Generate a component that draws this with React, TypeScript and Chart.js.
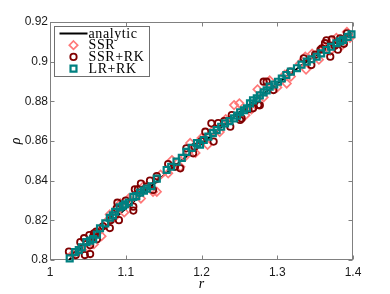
import React, { useEffect, useRef } from 'react';
import { Chart, registerables } from 'chart.js';

Chart.register(...registerables);

const seriesLabels = ['analytic', 'SSR', 'SSR+RK', 'LR+RK'];

const xTicks = [1, 1.1, 1.2, 1.3, 1.4];
const yTicks = [0.8, 0.82, 0.84, 0.86, 0.88, 0.9, 0.92];

const analyticR = [1.025, 1.05, 1.1, 1.15, 1.2, 1.25, 1.3, 1.35, 1.398];
const analyticRho = [0.8, 0.8088, 0.826, 0.8426, 0.8585, 0.8745, 0.889, 0.903, 0.9142];

const ssrR = [
  1.03, 1.04, 1.05, 1.058, 1.064, 1.068, 1.075, 1.079, 1.085, 1.093, 1.098, 1.104, 1.11,
  1.12, 1.124, 1.136, 1.141, 1.146, 1.156, 1.161, 1.172, 1.178, 1.185, 1.192, 1.2, 1.208,
  1.214, 1.224, 1.232, 1.243, 1.25, 1.258, 1.266, 1.274, 1.282, 1.29, 1.3, 1.31, 1.318,
  1.33, 1.338, 1.346, 1.355, 1.362, 1.37, 1.378, 1.385, 1.392, 1.396, 1.3125, 1.337,
];
const ssrRho = [
  0.803, 0.806, 0.8065, 0.808, 0.8143, 0.812, 0.8195, 0.823, 0.8215, 0.8285, 0.824, 0.831,
  0.832, 0.831, 0.8375, 0.8344, 0.8344, 0.843, 0.8437, 0.8504, 0.847, 0.852, 0.859, 0.854,
  0.8615, 0.858, 0.865, 0.8645, 0.871, 0.8781, 0.879, 0.873, 0.876, 0.886, 0.882, 0.8905,
  0.887, 0.8935, 0.8925, 0.899, 0.896, 0.904, 0.901, 0.9075, 0.9055, 0.912, 0.908, 0.915,
  0.912, 0.889, 0.9025,
];

const ssrRkR = [
  1.025, 1.034, 1.046, 1.053, 1.053, 1.052, 1.057, 1.061, 1.062, 1.058, 1.079, 1.08, 1.089,
  1.091, 1.088, 1.11, 1.11, 1.112, 1.116, 1.128, 1.136, 1.14, 1.141, 1.156, 1.165, 1.172,
  1.18, 1.189, 1.191, 1.205, 1.213, 1.216, 1.238, 1.24, 1.251, 1.268, 1.275, 1.286, 1.282,
  1.295, 1.335, 1.345, 1.359, 1.363, 1.37, 1.383, 1.392, 1.376, 1.388, 1.35, 1.23, 1.222,
  1.2, 1.262, 1.07, 1.045, 1.04, 1.1, 1.12, 1.132, 1.365, 1.372, 1.38, 1.357, 1.317, 1.277,
  1.253,
];
const ssrRkRho = [
  0.8042, 0.8025, 0.8025, 0.803, 0.8075, 0.8126, 0.8117, 0.8143, 0.8105, 0.8135, 0.8161,
  0.8201, 0.8289, 0.8201, 0.826, 0.8269, 0.8249, 0.8356, 0.8356, 0.837, 0.8353, 0.8407,
  0.8423, 0.8484, 0.847, 0.8462, 0.8563, 0.8538, 0.8571, 0.8647, 0.8689, 0.8597, 0.8672,
  0.8731, 0.8706, 0.8765, 0.8781, 0.8899, 0.8899, 0.8857, 0.9017, 0.8983, 0.9067, 0.9093,
  0.9025, 0.9118, 0.9143, 0.908, 0.909, 0.9035, 0.87, 0.869, 0.86, 0.876, 0.817, 0.811,
  0.809, 0.83, 0.8385, 0.84, 0.9108, 0.9112, 0.906, 0.906, 0.895, 0.878, 0.8714,
];

const lrRkR = [
  1.026, 1.033, 1.038, 1.042, 1.048, 1.053, 1.057, 1.062, 1.066, 1.073, 1.079, 1.083, 1.086,
  1.092, 1.096, 1.099, 1.104, 1.11, 1.114, 1.119, 1.124, 1.128, 1.134, 1.141, 1.154, 1.16,
  1.167, 1.174, 1.18, 1.187, 1.194, 1.198, 1.203, 1.209, 1.215, 1.22, 1.226, 1.231, 1.237,
  1.243, 1.247, 1.251, 1.256, 1.26, 1.264, 1.268, 1.273, 1.277, 1.282, 1.286, 1.29, 1.296,
  1.301, 1.306, 1.312, 1.318, 1.326, 1.332, 1.339, 1.345, 1.352, 1.358, 1.365, 1.371, 1.378,
  1.383, 1.387, 1.393, 1.398,
];
const lrRkRho = [
  0.8008, 0.804, 0.805, 0.8064, 0.809, 0.8098, 0.8105, 0.8128, 0.816, 0.8185, 0.8213, 0.8225,
  0.8243, 0.8265, 0.8272, 0.8281, 0.829, 0.8318, 0.8322, 0.834, 0.835, 0.836, 0.8372, 0.841,
  0.8454, 0.847, 0.8496, 0.8515, 0.8545, 0.8565, 0.859, 0.8582, 0.8605, 0.8622, 0.864,
  0.8655, 0.8672, 0.8689, 0.87, 0.8714, 0.8728, 0.8745, 0.8755, 0.8765, 0.879, 0.8805,
  0.8815, 0.883, 0.8845, 0.8855, 0.8874, 0.8885, 0.8899, 0.8915, 0.8933, 0.895, 0.8967,
  0.8985, 0.9, 0.9012, 0.9025, 0.9042, 0.9059, 0.9075, 0.9093, 0.9102, 0.911, 0.9125, 0.9138,
];

const COLORS = {
  analytic: '#000000',
  ssr: 'rgb(255,120,120)',
  ssrRk: 'rgb(128,0,0)',
  lrRk: 'rgb(0,128,128)',
};

const toPts = (xs: number[], ys: number[]) => xs.map((x, i) => ({ x, y: ys[i] }));
const fmt = (v: number) => String(Number(v.toFixed(2)));

const framePlugin = {
  id: 'matlabFrame',
  beforeDatasetsDraw(chart: any) {
    const { ctx, chartArea: a, scales } = chart;
    ctx.save();
    ctx.strokeStyle = '#808080';
    ctx.lineWidth = 1;
    const L = Math.round(a.left) + 0.5;
    const R = Math.round(a.right) - 0.5;
    const T = Math.round(a.top) + 0.5;
    const B = Math.round(a.bottom) - 0.5;
    ctx.strokeRect(L, T, R - L, B - T);
    const tl = 4;
    ctx.beginPath();
    xTicks.forEach((v) => {
      const px = Math.round(scales.x.getPixelForValue(v)) + 0.5;
      ctx.moveTo(px, B);
      ctx.lineTo(px, B - tl);
      ctx.moveTo(px, T);
      ctx.lineTo(px, T + tl);
    });
    yTicks.forEach((v) => {
      const py = Math.round(scales.y.getPixelForValue(v)) + 0.5;
      ctx.moveTo(L, py);
      ctx.lineTo(L + tl, py);
      ctx.moveTo(R, py);
      ctx.lineTo(R - tl, py);
    });
    ctx.stroke();
    ctx.restore();
  },
};

function drawMarker(ctx: CanvasRenderingContext2D, style: string, x: number, y: number, r: number) {
  ctx.beginPath();
  if (style === 'circle') {
    ctx.arc(x, y, r, 0, Math.PI * 2);
  } else if (style === 'rect') {
    const s = Math.SQRT1_2 * r;
    ctx.rect(x - s, y - s, 2 * s, 2 * s);
  } else if (style === 'rectRot') {
    ctx.moveTo(x, y - r);
    ctx.lineTo(x + r, y);
    ctx.lineTo(x, y + r);
    ctx.lineTo(x - r, y);
    ctx.closePath();
  }
  ctx.stroke();
}

const legendPlugin = {
  id: 'insideLegend',
  afterDraw(chart: any) {
    const { ctx, chartArea: a } = chart;
    const ds = chart.data.datasets;
    const bx = Math.round(a.left) + 4.5;
    const by = Math.round(a.top) + 4.5;
    const bw = 95;
    const bh = 50;
    ctx.save();
    ctx.fillStyle = '#ffffff';
    ctx.fillRect(bx, by, bw, bh);
    ctx.strokeStyle = '#6f6f6f';
    ctx.lineWidth = 1;
    ctx.strokeRect(bx, by, bw, bh);
    ctx.font = '14px "Liberation Serif"';
    try {
      (ctx as any).letterSpacing = '0.6px';
    } catch (e) {}
    ctx.textBaseline = 'middle';
    ctx.textAlign = 'left';
    const rowH = 11.7;
    ds.forEach((d: any, i: number) => {
      const cy = by + 7 + i * rowH;
      const x0 = bx + 5;
      const x1 = bx + 33;
      if (d.showLine) {
        ctx.strokeStyle = d.borderColor;
        ctx.lineWidth = 2;
        ctx.beginPath();
        ctx.moveTo(x0, cy);
        ctx.lineTo(x1, cy);
        ctx.stroke();
      } else {
        ctx.strokeStyle = d.pointBorderColor;
        ctx.lineWidth = d.pointBorderWidth;
        drawMarker(ctx, d.pointStyle, (x0 + x1) / 2, cy, d.pointRadius);
      }
      ctx.fillStyle = '#000';
      ctx.fillText(d.label, x1 + 1, cy + 0.5);
    });
    ctx.restore();
  },
};

export default function App() {
  const ref = useRef<HTMLCanvasElement>(null);

  useEffect(() => {
    if (!ref.current) return;
    const chart = new Chart(ref.current, {
      type: 'scatter',
      data: {
        datasets: [
          {
            label: seriesLabels[0],
            data: toPts(analyticR, analyticRho),
            showLine: true,
            borderColor: COLORS.analytic,
            borderWidth: 2,
            pointRadius: 0,
            cubicInterpolationMode: 'monotone',
            order: 4,
          } as any,
          {
            label: seriesLabels[1],
            data: toPts(ssrR, ssrRho),
            pointStyle: 'rectRot',
            pointRadius: 4.2,
            pointBorderWidth: 1.7,
            pointBorderColor: COLORS.ssr,
            pointBackgroundColor: 'rgba(0,0,0,0)',
            order: 3,
            clip: false,
          },
          {
            label: seriesLabels[2],
            data: toPts(ssrRkR, ssrRkRho),
            pointStyle: 'circle',
            pointRadius: 3.2,
            pointBorderWidth: 1.8,
            pointBorderColor: COLORS.ssrRk,
            pointBackgroundColor: 'rgba(0,0,0,0)',
            order: 2,
            clip: false,
          },
          {
            label: seriesLabels[3],
            data: toPts(lrRkR, lrRkRho),
            pointStyle: 'rect',
            pointRadius: 4.2,
            pointBorderWidth: 2.2,
            pointBorderColor: COLORS.lrRk,
            pointBackgroundColor: 'rgba(0,0,0,0)',
            order: 1,
            clip: false,
          },
        ],
      },
      options: {
        responsive: false,
        animation: false,
        devicePixelRatio: 1,
        layout: { padding: { top: 22, right: 37, left: 0, bottom: 0 } },
        plugins: {
          legend: { display: false },
          tooltip: { enabled: false },
        },
        scales: {
          x: {
            type: 'linear',
            min: 1,
            max: 1.4,
            grid: { display: false, drawTicks: false },
            border: { display: false },
            afterBuildTicks: (s: any) => {
              s.ticks = xTicks.map((v) => ({ value: v }));
            },
            afterFit: (s: any) => {
              s.height = 34;
            },
            ticks: {
              padding: 5,
              color: '#1a1a1a',
              font: { family: '"Liberation Sans"', size: 12 },
              callback: (v: any) => fmt(Number(v)),
            },
            title: {
              display: true,
              text: 'r',
              color: '#000',
              font: { family: '"Liberation Serif"', style: 'italic', size: 14 },
              padding: { top: 0, bottom: 1 },
            },
          },
          y: {
            type: 'linear',
            min: 0.8,
            max: 0.92,
            grid: { display: false, drawTicks: false },
            border: { display: false },
            afterBuildTicks: (s: any) => {
              s.ticks = yTicks.map((v) => ({ value: v }));
            },
            afterFit: (s: any) => {
              s.width = 50;
            },
            ticks: {
              padding: 2,
              color: '#1a1a1a',
              font: { family: '"Liberation Sans"', size: 12 },
              callback: (v: any) => fmt(Number(v)),
            },
            title: {
              display: true,
              text: 'ρ',
              color: '#000',
              font: { family: '"Liberation Serif"', style: 'italic', size: 14 },
              padding: { top: 8, bottom: 0 },
            },
          },
        },
      },
      plugins: [framePlugin, legendPlugin],
    });
    return () => chart.destroy();
  }, []);

  return (
    <div style={{ position: 'fixed', left: 0, top: 0, width: 390, height: 294, background: '#fff' }}>
      <canvas ref={ref} width={390} height={294} style={{ display: 'block', width: 390, height: 294 }} />
    </div>
  );
}
